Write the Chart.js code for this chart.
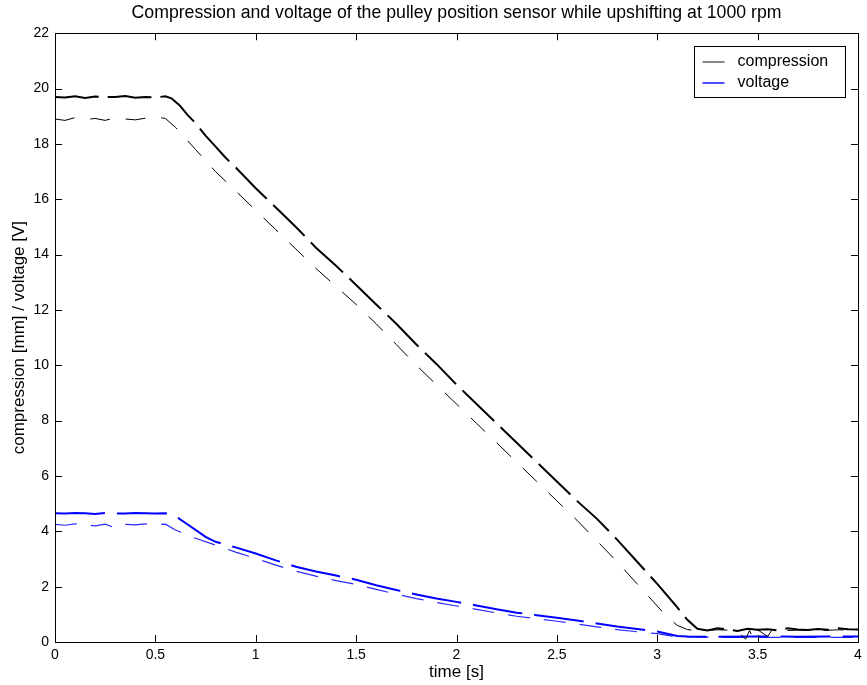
<!DOCTYPE html>
<html>
<head>
<meta charset="utf-8">
<script src="https://cdn.jsdelivr.net/npm/chart.js@4.4.1/dist/chart.umd.min.js"></script>
<style>
  html, body { margin: 0; padding: 0; background: #fff; }
  #wrap { width: 867px; height: 685px; }
</style>
</head>
<body>
<div id="wrap"><canvas id="c" width="867" height="685"></canvas></div>
<script>
// time axis [s] and readings taken off the plot
const compUpperT = [0, 0.05, 0.1, 0.15, 0.2, 0.25, 0.3, 0.35, 0.4, 0.45, 0.5, 0.55, 0.58, 0.62, 0.66, 0.7, 0.75, 0.8, 0.85, 0.9, 1.0, 1.1, 1.2, 1.3, 1.4, 1.5, 1.6, 1.7, 1.8, 1.9, 2.0, 2.1, 2.2, 2.3, 2.4, 2.5, 2.6, 2.7, 2.8, 2.9, 3.0, 3.1, 3.15, 3.2, 3.25, 3.3, 3.35, 3.4, 3.45, 3.5, 3.55, 3.6, 3.65, 3.7, 3.75, 3.8, 3.85, 3.9, 3.95, 4.0];
const compUpper  = [19.7, 19.68, 19.72, 19.66, 19.71, 19.69, 19.7, 19.73, 19.67, 19.7, 19.68, 19.72, 19.65, 19.4, 19.05, 18.75, 18.3, 17.9, 17.5, 17.15, 16.4, 15.7, 15.0, 14.25, 13.6, 12.9, 12.2, 11.5, 10.75, 10.05, 9.3, 8.6, 7.9, 7.2, 6.5, 5.8, 5.1, 4.45, 3.7, 2.9, 2.1, 1.25, 0.8, 0.48, 0.42, 0.5, 0.45, 0.4, 0.48, 0.44, 0.46, 0.42, 0.5, 0.45, 0.43, 0.47, 0.44, 0.5, 0.46, 0.45];

const compLowerT = [0, 0.05, 0.1, 0.15, 0.2, 0.25, 0.3, 0.35, 0.4, 0.45, 0.5, 0.55, 0.6, 0.7, 0.8, 0.9, 1.0, 1.1, 1.2, 1.3, 1.4, 1.5, 1.6, 1.7, 1.8, 1.9, 2.0, 2.1, 2.2, 2.3, 2.4, 2.5, 2.6, 2.7, 2.8, 2.9, 3.0, 3.05, 3.1, 3.15, 3.2, 3.3, 3.4, 3.44, 3.46, 3.48, 3.5, 3.55, 3.57, 3.6, 3.7, 3.8, 3.9, 4.0];
const compLower  = [18.9, 18.85, 18.95, 18.88, 18.92, 18.85, 18.95, 18.9, 18.87, 18.93, 18.98, 18.92, 18.6, 17.8, 17.0, 16.3, 15.6, 14.9, 14.2, 13.5, 12.85, 12.2, 11.5, 10.75, 10.0, 9.3, 8.6, 7.9, 7.2, 6.5, 5.8, 5.1, 4.4, 3.65, 2.9, 2.1, 1.3, 0.9, 0.6, 0.45, 0.4, 0.44, 0.42, 0.1, 0.42, 0.08, 0.44, 0.2, 0.42, 0.4, 0.43, 0.41, 0.44, 0.42];

const voltUpperT = [0, 0.05, 0.1, 0.15, 0.2, 0.25, 0.3, 0.35, 0.4, 0.45, 0.5, 0.55, 0.6, 0.65, 0.7, 0.75, 0.8, 0.9, 1.0, 1.1, 1.2, 1.3, 1.4, 1.5, 1.6, 1.7, 1.8, 1.9, 2.0, 2.1, 2.2, 2.3, 2.4, 2.5, 2.6, 2.7, 2.8, 2.9, 3.0, 3.05, 3.1, 3.15, 3.3, 3.5, 3.7, 3.9, 4.0];
const voltUpper  = [4.65, 4.64, 4.66, 4.65, 4.63, 4.66, 4.65, 4.64, 4.66, 4.65, 4.64, 4.65, 4.55, 4.3, 4.05, 3.8, 3.62, 3.42, 3.2, 2.95, 2.72, 2.55, 2.4, 2.25, 2.05, 1.88, 1.72, 1.57, 1.45, 1.32, 1.18, 1.06, 0.97, 0.88, 0.78, 0.67, 0.56, 0.47, 0.38, 0.3, 0.22, 0.2, 0.19, 0.2, 0.19, 0.2, 0.2];

const voltLowerT = [0, 0.05, 0.1, 0.15, 0.2, 0.25, 0.3, 0.35, 0.4, 0.45, 0.5, 0.55, 0.6, 0.7, 0.8, 0.9, 1.0, 1.1, 1.2, 1.3, 1.4, 1.5, 1.6, 1.7, 1.8, 1.9, 2.0, 2.1, 2.2, 2.3, 2.4, 2.5, 2.6, 2.7, 2.8, 2.9, 3.0, 3.05, 3.1, 3.3, 3.5, 3.7, 4.0];
const voltLower  = [4.25, 4.22, 4.27, 4.24, 4.2, 4.26, 4.12, 4.25, 4.23, 4.27, 4.24, 4.26, 4.05, 3.75, 3.5, 3.25, 3.02, 2.78, 2.56, 2.38, 2.22, 2.08, 1.9, 1.73, 1.57, 1.43, 1.3, 1.18, 1.05, 0.93, 0.84, 0.75, 0.65, 0.55, 0.45, 0.37, 0.3, 0.24, 0.19, 0.17, 0.17, 0.17, 0.17];

const xTicks = { min: 0, max: 4, step: 0.5 };
const yTicks = { min: 0, max: 22, step: 2 };

const FONT = '"Liberation Sans", Arial, Helvetica, sans-serif';

function pts(t, v) {
  return t.map((x, i) => ({ x, y: v[i] }));
}

// MATLAB style box with inward ticks + boxed legend
const boxPlugin = {
  id: 'matlabBox',
  afterDraw(chart) {
    const { ctx, chartArea: a, scales } = chart;
    const len = 7;
    ctx.save();
    ctx.strokeStyle = '#000';
    ctx.lineWidth = 1;
    ctx.beginPath();
    scales.x.ticks.forEach(tk => {
      const px = Math.round(scales.x.getPixelForValue(tk.value)) + 0.5;
      ctx.moveTo(px, a.bottom); ctx.lineTo(px, a.bottom - len);
      ctx.moveTo(px, a.top); ctx.lineTo(px, a.top + len);
    });
    scales.y.ticks.forEach(tk => {
      const py = Math.round(scales.y.getPixelForValue(tk.value)) + 0.5;
      ctx.moveTo(a.left, py); ctx.lineTo(a.left + len, py);
      ctx.moveTo(a.right, py); ctx.lineTo(a.right - len, py);
    });
    ctx.stroke();
    ctx.strokeRect(Math.round(a.left) + 0.5, Math.round(a.top) + 0.5,
      Math.round(a.right - a.left), Math.round(a.bottom - a.top));

    // legend
    const w = 151, h = 51;
    const lx = Math.round(a.right - 13 - w) + 0.5, ly = Math.round(a.top + 13) + 0.5;
    ctx.fillStyle = '#fff';
    ctx.fillRect(lx, ly, w, h);
    ctx.strokeRect(lx, ly, w, h);
    ctx.font = '16px ' + FONT;
    ctx.textBaseline = 'middle';
    ctx.textAlign = 'left';
    const items = [['compression', '#555555'], ['voltage', '#0000ff']];
    items.forEach(([label, col], i) => {
      const yy = Math.round(ly + 15 + i * 21);
      ctx.beginPath();
      ctx.strokeStyle = col;
      ctx.lineWidth = 1.4;
      ctx.moveTo(lx + 8, yy);
      ctx.lineTo(lx + 30, yy);
      ctx.stroke();
      ctx.fillStyle = '#000';
      ctx.fillText(label, lx + 43, yy);
    });
    ctx.restore();
  }
};

new Chart(document.getElementById('c'), {
  type: 'line',
  data: {
    datasets: [
      { label: 'compression', data: pts(compUpperT, compUpper), borderColor: '#000', borderWidth: 2, borderDash: [44, 9] },
      { label: 'compression (2)', data: pts(compLowerT, compLower), borderColor: '#000', borderWidth: 1, borderDash: [20, 16] },
      { label: 'voltage', data: pts(voltUpperT, voltUpper), borderColor: '#0000ff', borderWidth: 2, borderDash: [50, 12] },
      { label: 'voltage (2)', data: pts(voltLowerT, voltLower), borderColor: '#2a2aff', borderWidth: 1.2, borderDash: [22, 14] },
    ],
  },
  options: {
    responsive: false,
    animation: false,
    elements: { point: { radius: 0 }, line: { tension: 0 } },
    layout: { padding: { top: 0, right: 9, bottom: 0, left: 0 } },
    plugins: {
      legend: { display: false },
      tooltip: { enabled: false },
      title: {
        display: true,
        fullSize: false,
        text: 'Compression and voltage of the pulley position sensor while upshifting at 1000 rpm',
        color: '#000',
        font: { family: FONT, size: 17.7, weight: 'normal', lineHeight: 1.2 },
        padding: { top: 2, bottom: 10 },
      },
    },
    scales: {
      x: {
        type: 'linear',
        min: xTicks.min, max: xTicks.max,
        ticks: { stepSize: xTicks.step, color: '#000', font: { family: FONT, size: 14 }, padding: 5, maxRotation: 0,
                 callback: v => String(v) },
        grid: { display: false, drawTicks: false },
        border: { display: false },
        title: { display: true, text: 'time [s]', color: '#000', font: { family: FONT, size: 17 }, padding: { top: 0, bottom: 2 } },
        afterFit: s => { s.height = 43; },
      },
      y: {
        min: yTicks.min, max: yTicks.max,
        ticks: { stepSize: yTicks.step, color: '#000', font: { family: FONT, size: 14 }, padding: 6 },
        grid: { display: false, drawTicks: false },
        border: { display: false },
        title: { display: true, text: 'compression [mm] / voltage [V]', color: '#000', font: { family: FONT, size: 17 }, padding: { top: 9, bottom: 0 } },
        afterFit: s => { s.width = 55; },
      },
    },
  },
  plugins: [boxPlugin],
});
</script>
</body>
</html>
